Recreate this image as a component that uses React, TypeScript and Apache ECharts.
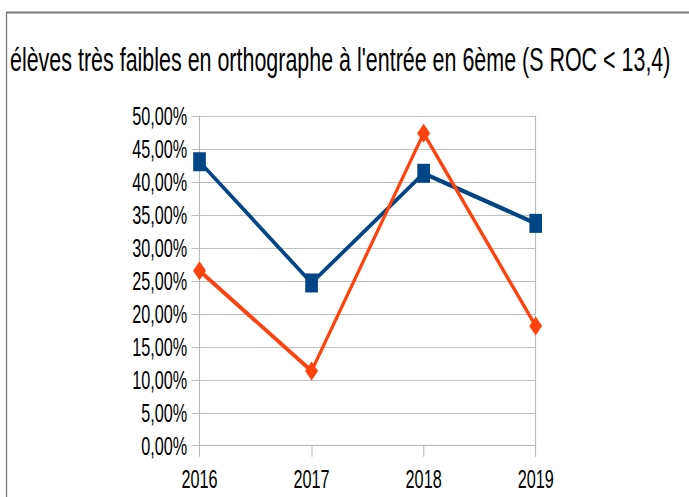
import { useEffect, useRef } from 'react';
import * as echarts from 'echarts';

const categories = ['2016', '2017', '2018', '2019'];
const seriesBlue = [43.1, 24.7, 41.35, 33.75];
const seriesOrange = [26.56, 11.34, 47.42, 18.17];
const yMin = 0;
const yMax = 50;
const yInterval = 5;
const titleText = "élèves très faibles en orthographe à l'entrée en 6ème (S ROC < 13,4)";

const SQUASH = 0.65;
const W = Math.round(689 / SQUASH);
const H = 497;
const FONT = '"Liberation Sans", Arial, sans-serif';

export default function App() {
  const ref = useRef<HTMLDivElement>(null);
  useEffect(() => {
    if (!ref.current) return;
    const chart = echarts.init(ref.current, undefined, { renderer: 'svg', width: W, height: H });
    const gridLeft = 199.5 / SQUASH;
    const gridRight = W - 535.7 / SQUASH;
    chart.setOption({
      animation: false,
      backgroundColor: '#ffffff',
      title: {
        text: titleText,
        left: 10 / SQUASH,
        top: 43,
        padding: 0,
        textStyle: { fontFamily: FONT, fontSize: 33, fontWeight: 'normal', color: '#000' },
      },
      graphic: [
        {
          type: 'rect',
          shape: { x: 6.5 / SQUASH, y: 12.5, width: W + 100, height: H + 100 },
          style: { fill: 'none', stroke: '#7a7a7a', lineWidth: 2 },
          silent: true,
        },
      ],
      grid: { left: gridLeft, right: gridRight, top: 116.3, bottom: H - 445.7, containLabel: false },
      xAxis: {
        type: 'category',
        data: categories,
        boundaryGap: false,
        axisLine: { show: true, lineStyle: { color: '#b3b3b3', width: 1 } },
        axisTick: { show: true, length: 11, lineStyle: { color: '#b3b3b3', width: 1.5 } },
        axisLabel: { margin: 21, fontFamily: FONT, fontSize: 25, color: '#000' },
        splitLine: { show: false },
      },
      yAxis: [
        {
          type: 'value',
          min: yMin,
          max: yMax,
          interval: yInterval,
          axisLine: { show: true, lineStyle: { color: '#b3b3b3', width: 1.5 } },
          axisTick: { show: true, length: 8 / SQUASH, lineStyle: { color: '#b3b3b3', width: 1 } },
          axisLabel: {
            margin: 12.2 / SQUASH,
            fontFamily: FONT,
            fontSize: 25,
            color: '#000',
            formatter: (v: number) => v.toFixed(2).replace('.', ',') + '%',
          },
          splitLine: { show: true, lineStyle: { color: '#b3b3b3', width: 1 } },
        },
        {
          type: 'value',
          position: 'right',
          min: yMin,
          max: yMax,
          interval: yInterval,
          axisLine: { show: true, lineStyle: { color: '#b3b3b3', width: 1.5 } },
          axisTick: { show: false },
          axisLabel: { show: false },
          splitLine: { show: false },
        },
      ],
      series: [
        {
          name: 'Série 1',
          type: 'line',
          data: seriesBlue,
          yAxisIndex: 0,
          symbol: 'rect',
          symbolSize: [19.5, 19],
          showAllSymbol: true,
          lineStyle: { color: '#004586', width: 4.5 },
          itemStyle: { color: '#004586' },
        },
        {
          name: 'Série 2',
          type: 'line',
          data: seriesOrange,
          yAxisIndex: 0,
          symbol: 'diamond',
          symbolSize: [20, 19],
          showAllSymbol: true,
          lineStyle: { color: '#ff420e', width: 4.5 },
          itemStyle: { color: '#ff420e' },
        },
      ],
    });
    return () => chart.dispose();
  }, []);
  return (
    <div style={{ position: 'fixed', left: 0, top: 0, width: 689, height: 497, overflow: 'hidden', background: '#fff' }}>
      <div
        ref={ref}
        style={{ width: W, height: H, transform: `scaleX(${SQUASH})`, transformOrigin: '0 0' }}
      />
    </div>
  );
}
